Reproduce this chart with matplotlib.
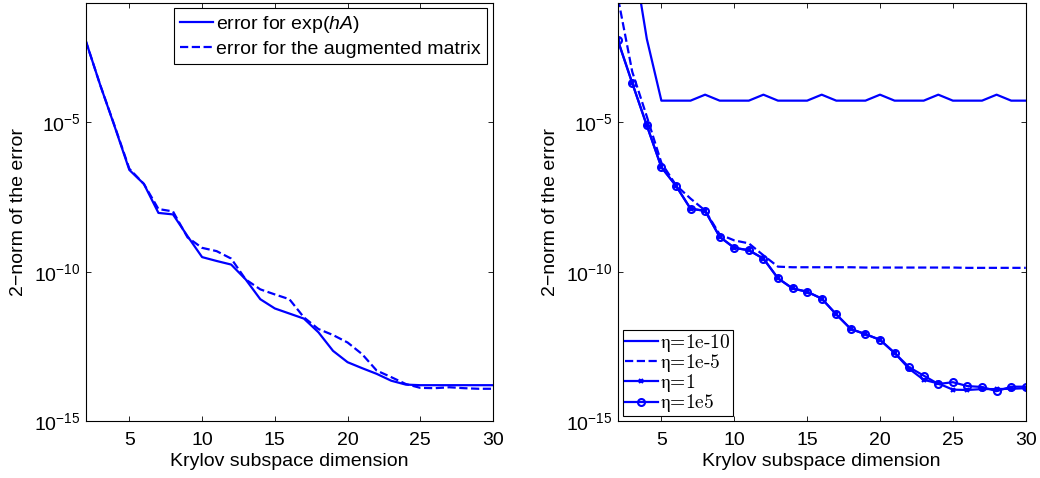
import numpy as np
import matplotlib
matplotlib.use("Agg")
import matplotlib.pyplot as plt
from matplotlib.font_manager import FontProperties

plt.rcParams['font.family'] = ['Liberation Sans', 'DejaVu Sans']
plt.rcParams['mathtext.fontset'] = 'custom'
plt.rcParams['mathtext.rm'] = 'Liberation Sans'
plt.rcParams['mathtext.it'] = 'Liberation Sans:italic'
plt.rcParams['mathtext.default'] = 'regular'

# Krylov subspace dimensions
dim = np.arange(2, 31)

# log10 of the 2-norm error, left panel
log_err_exp = [-2.26, -3.75, -5.15, -6.59, -7.06, -8.03, -8.08, -8.81, -9.51, -9.64,
               -9.76, -10.26, -10.92, -11.23, -11.40, -11.57, -12.03, -12.65, -13.03, -13.23,
               -13.42, -13.65, -13.78, -13.80, -13.80, -13.80, -13.80, -13.80, -13.80]
log_err_aug = [-2.26, -3.75, -5.13, -6.55, -7.06, -7.90, -7.98, -8.85, -9.20, -9.31,
               -9.56, -10.26, -10.59, -10.76, -10.92, -11.53, -11.92, -12.12, -12.37, -12.76,
               -13.31, -13.53, -13.76, -13.89, -13.90, -13.87, -13.90, -13.92, -13.92]

# log10 of the 2-norm error, right panel, one list per eta
eta_labels = [r'$\eta$=1e-10', r'$\eta$=1e-5', r'$\eta$=1', r'$\eta$=1e5']
log_eta_1em10 = [3.00, 0.80, -2.20, -4.27, -4.27, -4.27, -4.07, -4.27, -4.27, -4.27,
                 -4.07, -4.27, -4.27, -4.27, -4.07, -4.27, -4.27, -4.27, -4.07, -4.27,
                 -4.27, -4.27, -4.07, -4.27, -4.27, -4.27, -4.07, -4.27, -4.27]
log_eta_1em5 = [-0.77, -3.30, -4.80, -6.35, -7.10, -7.55, -7.95, -8.75, -8.95, -9.05,
                -9.45, -9.83, -9.85, -9.85, -9.85, -9.85, -9.85, -9.86, -9.86, -9.86,
                -9.86, -9.86, -9.86, -9.86, -9.87, -9.87, -9.87, -9.87, -9.87]
log_eta_1 = [-2.23, -3.68, -5.10, -6.50, -7.12, -7.89, -7.96, -8.83, -9.20, -9.28,
             -9.56, -10.22, -10.56, -10.67, -10.90, -11.43, -11.92, -12.09, -12.28, -12.72,
             -13.25, -13.62, -13.74, -13.95, -13.96, -13.93, -13.93, -13.92, -13.90]
log_eta_1e5 = [-2.23, -3.68, -5.10, -6.50, -7.12, -7.89, -7.96, -8.83, -9.20, -9.28,
               -9.56, -10.22, -10.56, -10.67, -10.90, -11.43, -11.92, -12.09, -12.28, -12.72,
               -13.20, -13.48, -13.76, -13.70, -13.83, -13.86, -14.00, -13.85, -13.85]

xticks = [5, 10, 15, 20, 25, 30]
yticks = [1e-15, 1e-10, 1e-5]
ytick_labels = [r'$10^{-15}$', r'$10^{-10}$', r'$10^{-5}$']

blue = (0, 0, 1)
fs = 14
fig = plt.figure(figsize=(10.4, 4.78), dpi=100)
ax1 = fig.add_axes([0.0824, 0.1192, 0.3917, 0.8745])
ax2 = fig.add_axes([0.5939, 0.1192, 0.3924, 0.8745])


def style_axis(ax):
    ax.set_yscale('log')
    ax.set_xlim(2, 30)
    ax.set_ylim(1e-15, 1e-1)
    ax.set_xticks(xticks)
    ax.set_yticks(yticks)
    ax.set_yticklabels(ytick_labels)
    ax.yaxis.set_minor_locator(matplotlib.ticker.NullLocator())
    ax.tick_params(direction='in', top=True, right=True, length=3.5, width=0.6,
                   labelsize=fs)
    ax.tick_params(axis='x', pad=8)
    ax.tick_params(axis='y', pad=3.5)
    for sp in ax.spines.values():
        sp.set_linewidth(0.8)
    ax.set_xlabel('Krylov subspace dimension', fontsize=fs, labelpad=2.5)
    ax.set_ylabel('2\u2212norm of the error', fontsize=fs, labelpad=5)


ax1.plot(dim, 10.0 ** np.array(log_err_exp), '-', color=blue, lw=1.6,
         label=r'error for exp($\mathit{hA}$)')
ax1.plot(dim, 10.0 ** np.array(log_err_aug), '--', color=blue, lw=1.6,
         label='error for the augmented matrix')
style_axis(ax1)
leg1 = ax1.legend(loc='upper right', bbox_to_anchor=(0.985, 0.988), borderaxespad=0,
                  fontsize=fs, fancybox=False, framealpha=1, edgecolor='black',
                  handlelength=1.7, handletextpad=0.2, borderpad=0.3, labelspacing=0.3)
leg1.get_frame().set_linewidth(0.8)

ax2.plot(dim, 10.0 ** np.array(log_eta_1em10), '-', color=blue, lw=1.6, label=eta_labels[0])
ax2.plot(dim, 10.0 ** np.array(log_eta_1em5), '--', color=blue, lw=1.6, label=eta_labels[1])
ax2.plot(dim, 10.0 ** np.array(log_eta_1), '-', color=blue, lw=1.6, marker='x',
         ms=3.5, mew=1.5, label=eta_labels[2])
ax2.plot(dim, 10.0 ** np.array(log_eta_1e5), '-', color=blue, lw=1.6, marker='o',
         ms=5, mew=1.5, mfc='none', label=eta_labels[3])
style_axis(ax2)
leg_font = FontProperties(family='cmr10', size=fs, math_fontfamily='cm')
leg2 = ax2.legend(loc='lower left', bbox_to_anchor=(0.013, 0.012), borderaxespad=0,
                  prop=leg_font, fancybox=False, framealpha=1, edgecolor='black',
                  handlelength=1.7, handletextpad=0.15, borderpad=0.08, labelspacing=-0.09)
leg2.get_frame().set_linewidth(0.8)

fig.savefig('out.png', dpi=100)
